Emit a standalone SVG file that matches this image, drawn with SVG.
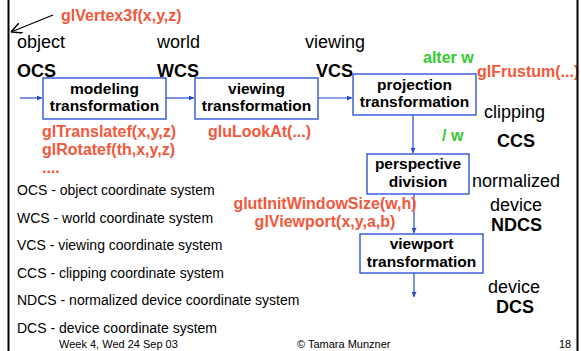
<svg xmlns="http://www.w3.org/2000/svg" width="581" height="351" viewBox="0 0 581 351">
  <style>
    text { font-family: "Liberation Sans", Arial, sans-serif; fill: #000; }
    .lbl { font-size: 18px; }
    .lblb { font-size: 18px; font-weight: bold; }
    .box { fill: #fff; stroke: #3056d8; stroke-width: 1.4; }
    .boxt { font-size: 15.5px; font-weight: bold; text-anchor: middle; }
    .gl { font-size: 16px; font-weight: bold; fill: #f2583c; }
    .grn { font-size: 16px; font-weight: bold; fill: #33cc2e; }
    .lst { font-size: 14px; }
    .ft { font-size: 11px; }
    .conn { stroke: #2448d0; stroke-width: 1.2; fill: none; marker-end: url(#ah); }
  </style>
  <defs>
    <marker id="ah" viewBox="0 0 8 8" refX="8" refY="4" markerWidth="5" markerHeight="5" markerUnits="userSpaceOnUse" orient="auto">
      <path d="M0,0 L8,4 L0,8 z" fill="#2448d0"/>
    </marker>
    <marker id="ahk" viewBox="0 0 10 10" refX="10" refY="5" markerWidth="11" markerHeight="11" markerUnits="userSpaceOnUse" orient="auto">
      <path d="M0,0 L10,5 L0,10" fill="none" stroke="#000" stroke-width="1.3"/>
    </marker>
  </defs>
  <rect width="581" height="351" fill="#fff"/>

  <!-- pointer from glVertex3f to the page edge -->
  <line x1="53" y1="15" x2="11" y2="32" stroke="#000" stroke-width="1.2" marker-end="url(#ahk)"/>
  <text class="gl" x="61" y="21">glVertex3f(x,y,z)</text>

  <!-- coordinate system labels -->
  <text class="lbl" x="17" y="48">object</text>
  <text class="lblb" x="17" y="77">OCS</text>
  <text class="lbl" x="157" y="48">world</text>
  <text class="lblb" x="157" y="77">WCS</text>
  <text class="lbl" x="305" y="48">viewing</text>
  <text class="lblb" x="316" y="77">VCS</text>
  <text class="lbl" x="484" y="118">clipping</text>
  <text class="lblb" x="497" y="147">CCS</text>
  <text class="lbl" x="472" y="187">normalized</text>
  <text class="lbl" x="490" y="211">device</text>
  <text class="lblb" x="491" y="231">NDCS</text>
  <text class="lbl" x="488" y="293">device</text>
  <text class="lblb" x="496" y="313">DCS</text>

  <!-- connectors -->
  <g id="connectors">
    <line class="conn" x1="20" y1="98" x2="42" y2="98"/>
    <line class="conn" x1="166" y1="98" x2="194" y2="98"/>
    <line class="conn" x1="318" y1="98" x2="352" y2="98"/>
    <line class="conn" x1="413" y1="115" x2="413" y2="153"/>
    <line class="conn" x1="414" y1="194" x2="414" y2="233"/>
    <line class="conn" x1="414" y1="273" x2="414" y2="297"/>
  </g>

  <!-- pipeline stages -->
  <g id="modeling">
    <rect class="box" x="43" y="78" width="123" height="41"/>
    <text class="boxt" x="104.5" y="94">modeling</text>
    <text class="boxt" x="104.5" y="111">transformation</text>
  </g>
  <g id="viewing">
    <rect class="box" x="195" y="78" width="123" height="41"/>
    <text class="boxt" x="256.5" y="94">viewing</text>
    <text class="boxt" x="256.5" y="111">transformation</text>
  </g>
  <g id="projection">
    <rect class="box" x="353" y="74" width="123" height="41"/>
    <text class="boxt" x="414.5" y="90">projection</text>
    <text class="boxt" x="414.5" y="107">transformation</text>
  </g>
  <g id="perspective">
    <rect class="box" x="367" y="154" width="102" height="40"/>
    <text class="boxt" x="418" y="169">perspective</text>
    <text class="boxt" x="418" y="187">division</text>
  </g>
  <g id="viewport">
    <rect class="box" x="360" y="234" width="123" height="39"/>
    <text class="boxt" x="421.5" y="249">viewport</text>
    <text class="boxt" x="421.5" y="267">transformation</text>
  </g>

  <!-- OpenGL calls -->
  <text class="gl" x="42" y="137">glTranslatef(x,y,z)</text>
  <text class="gl" x="42" y="155">glRotatef(th,x,y,z)</text>
  <text class="gl" x="42" y="173">....</text>
  <text class="gl" x="208" y="137">gluLookAt(...)</text>
  <text class="gl" x="477" y="77">glFrustum(...)</text>
  <text class="gl" x="325" y="209" text-anchor="middle">glutInitWindowSize(w,h)</text>
  <text class="gl" x="325" y="227" text-anchor="middle">glViewport(x,y,a,b)</text>
  <text class="grn" x="423" y="63">alter w</text>
  <text class="grn" x="442" y="141">/ w</text>

  <!-- legend -->
  <text class="lst" x="17" y="195">OCS - object coordinate system</text>
  <text class="lst" x="17" y="222.5">WCS - world coordinate system</text>
  <text class="lst" x="17" y="250">VCS - viewing coordinate system</text>
  <text class="lst" x="17" y="277.5">CCS - clipping coordinate system</text>
  <text class="lst" x="17" y="305">NDCS - normalized device coordinate system</text>
  <text class="lst" x="17" y="332.5">DCS - device coordinate system</text>

  <!-- footer -->
  <text class="ft" x="59" y="348">Week 4, Wed 24 Sep 03</text>
  <text class="ft" x="297" y="348">© Tamara Munzner</text>
  <text class="ft" x="559" y="348">18</text>

  <!-- page edges -->
  <line x1="8.5" y1="0" x2="8.5" y2="351" stroke="#000" stroke-width="2"/>
  <line x1="577.5" y1="0" x2="577.5" y2="351" stroke="#000" stroke-width="2"/>
</svg>
